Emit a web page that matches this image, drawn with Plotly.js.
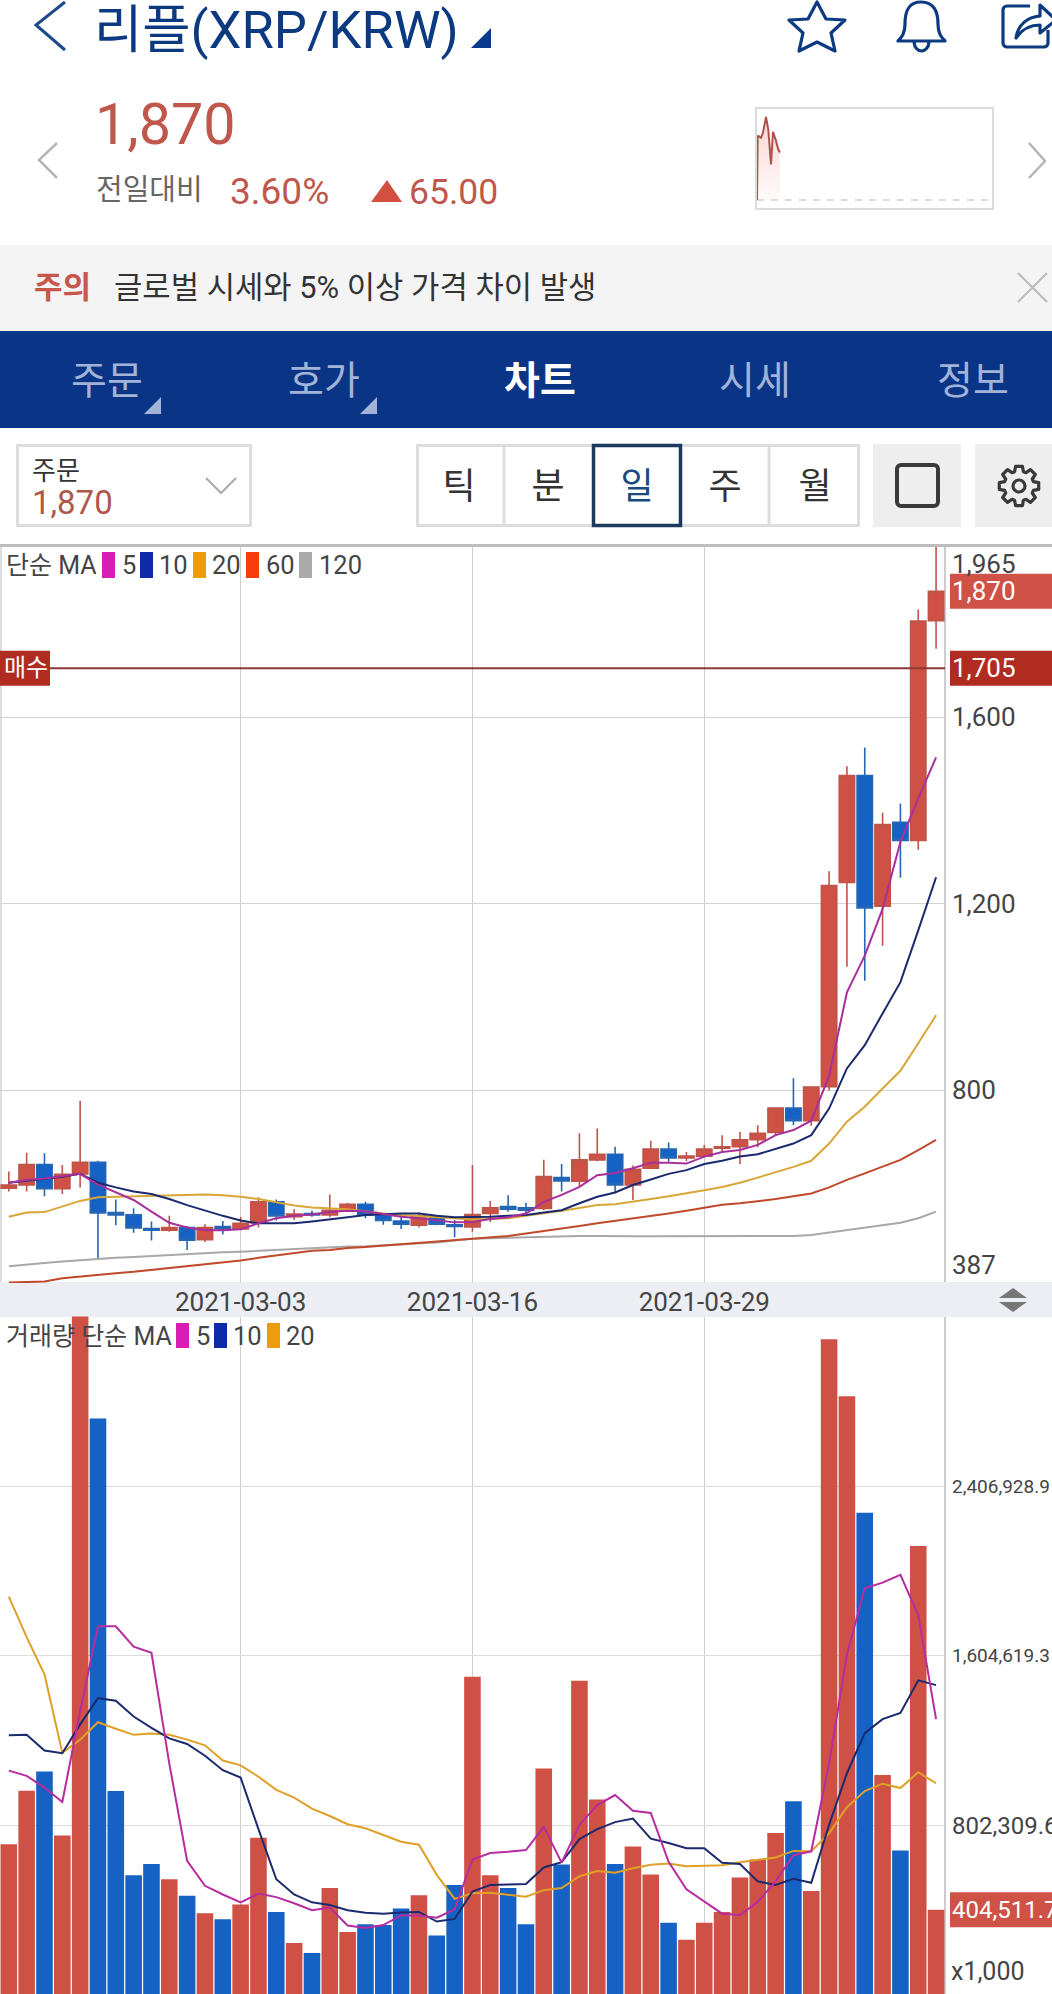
<!DOCTYPE html>
<html><head><meta charset="utf-8">
<script src="https://cdn.plot.ly/plotly-3.0.1.min.js"></script>
<style>
html,body{margin:0;padding:0;background:#fff;width:1052px;height:1994px;overflow:hidden}
#chart{position:absolute;left:0;top:0;width:1052px;height:1994px}
#chrome{position:absolute;left:0;top:0;pointer-events:none}
#chrome text{font-family:Roboto,"Noto Sans CJK KR",sans-serif}
</style></head><body>
<div id="chart"></div>
<svg id="chrome" width="1052" height="1994" xmlns="http://www.w3.org/2000/svg">
  <!-- header -->
  <path d="M65 2 L36 25 L65 50" fill="none" stroke="#1d4a8a" stroke-width="3"/>
  <text x="94" y="48" font-size="52.5" fill="#0c3a80">리플(XRP/KRW)</text>
  <path d="M491 28 V48 H471 Z" fill="#0a3a8c"/>
  <path d="M817 2 L826 19 L845 20 L831 33 L835 51 L817 42 L799 51 L803 33 L789 20 L808 19 Z" fill="none" stroke="#0c3a80" stroke-width="3.2" stroke-linejoin="round"/>
  <path d="M921 2 C908 2 905 12 905 24 C905 33 902 37 898 41 H945 C941 37 938 33 938 24 C938 12 934 2 921 2 Z M914 42 C915 54 928 54 929 42" fill="none" stroke="#0c3a80" stroke-width="3.2" stroke-linejoin="round"/>
  <path d="M1030 6 H1007 a4 4 0 0 0 -4 4 V43 a4 4 0 0 0 4 4 H1044 a4 4 0 0 0 4 -4 V30 M1016 38 C1018 24 1028 17 1040 16 V5 L1056 20 L1040 33 V25 C1030 25 1022 29 1016 38 Z" fill="none" stroke="#0c3a80" stroke-width="3.2" stroke-linejoin="round"/>

  <path d="M57 143 L39 160 L57 178" fill="none" stroke="#b5b5b5" stroke-width="2.5"/>
  <path d="M1029 143 L1045 161 L1029 178" fill="none" stroke="#b5b5b5" stroke-width="2.5"/>
  <text x="95" y="144" font-size="57.5" fill="#c0574c">1,870</text>
  <text x="96" y="200" font-size="29" fill="#666">전일대비</text>
  <text x="230" y="204" font-size="37" fill="#c0574c">3.60%</text>
  <path d="M387 180 L402 202 H371 Z" fill="#d2503f"/>
  <text x="409" y="204" font-size="35.5" fill="#c0574c">65.00</text>

  <!-- notice -->
  <rect x="0" y="245" width="1052" height="86" fill="#f4f4f5"/>
  <text x="34" y="298" font-size="31" font-weight="700" fill="#c8564a">주의</text>
  <text x="114" y="298" font-size="30.8" fill="#333">글로벌 시세와 5% 이상 가격 차이 발생</text>
  <path d="M1018 273 L1047 302 M1047 273 L1018 302" stroke="#bcbcbc" stroke-width="2.2"/>

  <!-- nav -->
  <rect x="0" y="331" width="1052" height="97" fill="#0a3586"/>
  <g font-size="39" text-anchor="middle" fill="#a3b3d8">
    <text x="107" y="394">주문</text>
    <text x="324" y="394">호가</text>
    <text x="540" y="394" fill="#fff" font-weight="700">차트</text>
    <text x="755" y="394">시세</text>
    <text x="973" y="394">정보</text>
  </g>
  <path d="M161 397 V414 H144 Z" fill="#a3b3d8"/>
  <path d="M377 397 V414 H360 Z" fill="#a3b3d8"/>

  <!-- controls -->
  <rect x="17.5" y="445.5" width="233" height="80" fill="#fff" stroke="#ddd" stroke-width="3"/>
  <text x="32" y="480" font-size="26" fill="#333">주문</text>
  <text x="32" y="514" font-size="33" fill="#b0574c">1,870</text>
  <path d="M206 478 L221 493 L236 478" fill="none" stroke="#aaa" stroke-width="2"/>
  <rect x="417.5" y="445.5" width="441" height="80" fill="#fff" stroke="#ddd" stroke-width="3"/>
  <path d="M504 445 V526 M769 445 V526" stroke="#ddd" stroke-width="3"/>
  <rect x="593.5" y="445.5" width="87" height="80" fill="#fff" stroke="#1b3a5c" stroke-width="3.5"/>
  <g font-size="36" text-anchor="middle" fill="#333">
    <text x="459" y="499">틱</text>
    <text x="548" y="499">분</text>
    <text x="637" y="499" fill="#1b4a80">일</text>
    <text x="725" y="499">주</text>
    <text x="815" y="499">월</text>
  </g>
  <rect x="873" y="444" width="88" height="83" fill="#eee"/>
  <rect x="897" y="465" width="41" height="41" rx="4" fill="none" stroke="#3a3a3a" stroke-width="4"/>
  <rect x="975" y="444" width="77" height="83" fill="#eee"/>
  <path id="gear" fill="none" stroke="#3a3a3a" stroke-width="3.2" stroke-linejoin="round"/>
  <circle cx="1019" cy="486" r="6" fill="none" stroke="#3a3a3a" stroke-width="3.2"/>

  <!-- band arrows -->
  <path d="M1013 1288 L1027 1298 H999 Z M1013 1312 L1027 1302 H999 Z" fill="#777"/>
</svg>
<script>
// ---------- data ----------
const dates = ["2021-02-18","2021-02-19","2021-02-20","2021-02-21","2021-02-22","2021-02-23","2021-02-24","2021-02-25","2021-02-26","2021-02-27","2021-02-28",
"2021-03-01","2021-03-02","2021-03-03","2021-03-04","2021-03-05","2021-03-06","2021-03-07","2021-03-08","2021-03-09","2021-03-10","2021-03-11","2021-03-12","2021-03-13","2021-03-14","2021-03-15","2021-03-16","2021-03-17","2021-03-18","2021-03-19","2021-03-20","2021-03-21","2021-03-22","2021-03-23","2021-03-24","2021-03-25","2021-03-26","2021-03-27","2021-03-28","2021-03-29","2021-03-30","2021-03-31",
"2021-04-01","2021-04-02","2021-04-03","2021-04-04","2021-04-05","2021-04-06","2021-04-07","2021-04-08","2021-04-09","2021-04-10","2021-04-11"];
const dateTicks = ["2021-03-03","2021-03-16","2021-03-29"];

const open_ = [590,597,641,589,621,646,538,533,504,500,506,480,508,503,516,561,529,536,533,542,556,533,520,511,529,512,507,536,551,548,547,613,605,651,663,597,633,674,655,659,676,679,694,710,762,735,808,1246,1475,1195,1375,1336,1807];
const close_ = [597,641,589,620,646,537,533,505,500,506,479,506,503,515,561,531,535,533,543,556,533,521,513,531,513,508,534,548,545,543,615,606,651,663,597,631,674,655,659,674,679,694,708,762,735,807,1239,1475,1191,1370,1336,1806,1870];
const high_ = [626,666,665,640,778,649,566,547,519,531,509,513,520,529,571,566,545,542,577,559,561,536,536,538,533,522,640,563,575,559,651,642,708,718,679,639,692,688,668,683,704,711,725,764,826,809,1270,1495,1535,1395,1415,1831,1965];
const low_ = [583,583,573,578,592,438,511,495,478,497,458,475,491,500,506,521,522,529,528,541,526,512,503,506,511,485,497,518,540,536,543,583,593,648,581,565,631,647,648,656,668,642,678,702,725,724,799,1065,1035,1110,1256,1316,1747];

const ma5 = [602,608,611,616,621,598,581,565,540,516,506,500,500,502,515,526,531,534,539,542,541,535,529,526,522,517,518,524,528,536,561,576,593,618,623,633,645,645,643,658,668,672,683,704,715,735,831,1010,1089,1189,1333,1426,1514];
const ma10 = [602,606,611,615,621,602,592,583,578,567,554,542,531,521,515,515,515,519,523,528,533,535,536,536,531,528,528,529,531,533,538,543,558,572,581,597,609,621,629,642,649,658,663,674,686,704,761,847,897,965,1032,1143,1257];
const ma20 = [529,538,539,551,563,571,572,573,574,576,576,577,575,572,567,560,553,549,547,545,541,536,533,531,528,526,523,525,526,531,536,542,548,554,556,561,567,573,579,586,593,602,613,624,636,649,686,733,765,804,842,901,961];
const ma60 = [388,389,390,397,401,405,408,411,415,419,423,427,430,435,441,446,451,456,458,462,464,467,470,473,476,479,482,485,488,493,498,503,509,515,520,526,531,536,542,549,555,558,562,567,573,579,592,608,622,636,651,672,694];
const ma120 = [423,427,430,433,436,439,441,443,445,448,449,451,453,454,456,458,459,461,463,465,466,468,470,472,474,478,482,483,484,485,486,488,488,488,487,487,487,487,487,487,487,487,488,488,488,490,495,501,506,511,516,526,540];

const volume = [713625,967313,1058063,754875,3300000,2726625,965250,567188,620813,548625,470250,387750,358875,429000,744563,393938,247500,200063,507375,299063,336188,332063,410438,472313,282563,521813,1505625,567188,507375,336188,1072500,618750,1487063,926063,620813,703313,571313,342375,261938,342375,393938,556875,641438,767250,917813,492938,3102000,2831813,2281125,1041563,684750,2124375,404512];
const volMa5 = [1062188,1037438,981750,913688,1342688,1744875,1744875,1647938,1619063,1095188,635250,517688,476438,439313,480563,464063,435188,402188,414563,330000,317625,332063,377438,377438,367125,406313,641438,672375,678563,686813,796125,627000,806438,899250,946688,872438,862125,631125,501188,445500,385688,379500,441375,538313,662063,680625,1095188,1610813,1924313,1951125,1988250,1796438,1305563];
const volMa10 = [1229250,1231313,1157063,1144688,1280813,1404563,1392188,1317938,1264313,1214813,1188000,1132313,1064250,1029188,785813,548625,476438,439313,426938,402188,389813,385688,391875,393938,348563,360938,490875,521813,523875,525938,604313,629063,738375,785813,818813,835313,740438,719813,695063,695063,627000,620813,538313,521813,550688,532125,806438,1049813,1239563,1305563,1334438,1489125,1466438];
const volMa20 = [1885125,1693313,1518000,1146750,1208625,1291125,1260188,1231313,1237500,1231313,1208625,1181813,1109625,1086938,1033313,971438,934313,882750,847688,808500,789938,756938,726000,711563,569250,455813,482625,484688,476438,466125,497063,507375,563063,587813,579563,600188,616688,622875,610500,612563,614625,629063,641438,651750,682688,680625,765188,888938,965250,1000313,979688,1053938,1002375];

const priceTicks = [800,1200,1600];
const priceTickText = ["800","1,200","1,600"];
const priceMin = 387, priceMax = 1965, lastPrice = 1870, buyPrice = 1705;
const volTicks = [802309.6,1604619.3,2406928.9];
const volLast = 404511.7;

const sparkX = [0,0.7,4,6,9,11.3,14,16,18.7,21.3,23];
const sparkY = [0,65,63,68,84,71,36,69,61,51,48];

// ---------- colours ----------
const RED="#cf5146", BLUE="#1562c4", RED_LINE="#bf5448", BLUE_LINE="#2567b4";
const C5="#a82f9c", C10="#1b2a6e", C20="#d8a636", C60="#c2482c", C120="#a8a8a8";
const TXT="#444";

// ---------- helpers for page pixels -> paper fractions ----------
const W=1052,H=1994;
const px=x=>x/W, py=y=>1-y/H;
const FONT='Roboto,"Noto Sans CJK KR",sans-serif';

// gear outline for the settings icon
(function(){
  const cx=1019,cy=486,n=8,ro=20,ri=15, w=0.2, w2=0.17, s=2*Math.PI/n; let d="";
  for(let i=0;i<n;i++){
    const a=i*s-Math.PI/2;
    const P=(r,t)=>(cx+r*Math.cos(t)).toFixed(1)+" "+(cy+r*Math.sin(t)).toFixed(1);
    d+=(i?"L":"M")+P(ri,a-w-0.1)+"L"+P(ro,a-w2)+"L"+P(ro,a+w2)+"L"+P(ri,a+w+0.1);
    d+="A"+ri+" "+ri+" 0 0 1 "+P(ri,a+s-w-0.1);
  }
  document.getElementById("gear").setAttribute("d",d+"Z");
})();

const line=(y,c,w,ax)=>({type:"scatter",mode:"lines",x:dates,y:y,xaxis:ax[0],yaxis:ax[1],line:{color:c,width:w},hoverinfo:"skip",showlegend:false});

const traces=[
  line(ma120,C120,2,["x","y"]),
  line(ma60,C60,2,["x","y"]),
  line(ma20,C20,2,["x","y"]),
  line(ma10,C10,2,["x","y"]),
  line(ma5,C5,2,["x","y"]),
  {type:"candlestick",x:dates,open:open_,high:high_,low:low_,close:close_,xaxis:"x",yaxis:"y",
   increasing:{line:{color:RED_LINE,width:1.6},fillcolor:RED},
   decreasing:{line:{color:BLUE_LINE,width:1.6},fillcolor:BLUE},
   whiskerwidth:0,hoverinfo:"skip",showlegend:false},
  {type:"bar",x:dates,y:volume,xaxis:"x2",yaxis:"y2",
   marker:{color:close_.map((c,i)=>c>=open_[i]?RED:BLUE),line:{width:0}},hoverinfo:"skip",showlegend:false},
  line(volMa20,"#e0a028",2,["x2","y2"]),
  line(volMa10,C10,2,["x2","y2"]),
  line(volMa5,"#b82ca0",2,["x2","y2"]),
  {type:"scatter",mode:"lines",x:[0,235],y:[0,0],xaxis:"x3",yaxis:"y3",line:{color:"#d4d4d4",width:1.5,dash:"7px,7px"},hoverinfo:"skip",showlegend:false},
  {type:"scatter",mode:"lines",x:sparkX,y:sparkY,xaxis:"x3",yaxis:"y3",line:{color:"#b0524a",width:2},
   fill:"tozeroy",fillgradient:{type:"vertical",colorscale:[[0,"rgba(240,110,100,0.03)"],[1,"rgba(240,110,100,0.28)"]]},hoverinfo:"skip",showlegend:false}
];

const xBase={type:"category",categoryorder:"array",categoryarray:dates,range:[-0.494,52.5],domain:[0,px(945)],
  tickmode:"array",tickvals:dateTicks,showgrid:true,gridcolor:"#cfcfcf",gridwidth:1.4,zeroline:false,showline:false,ticks:""};

const shapes=[];
const rectP=(x0,y0,x1,y1,c,layer)=>shapes.push({type:"rect",xref:"paper",yref:"paper",x0:px(x0),x1:px(x1),y0:py(y0),y1:py(y1),fillcolor:c,line:{width:0},layer:layer||"above"});
const lineP=(x0,y0,x1,y1,c,w,layer)=>shapes.push({type:"line",xref:"paper",yref:"paper",x0:px(x0),x1:px(x1),y0:py(y0),y1:py(y1),line:{color:c,width:w},layer:layer||"below"});
rectP(0,1282,W,1317,"#eceef4","below");
lineP(0,545.5,W,545.5,"#bdbdbd",3);
lineP(1,547,1,1282,"#cfcfcf",1.4);
lineP(945,547,945,1282,"#bbb",1.5);
lineP(945,1317,945,H,"#bbb",1.5);

// value badges / buy line
const badge=(val,yref,x0,x1,c)=>shapes.push({type:"rect",xref:"paper",yref:yref,x0:px(x0),x1:px(x1),yanchor:val,ysizemode:"pixel",y0:-17.5,y1:17.5,fillcolor:c,line:{width:0},layer:"above"});
badge(lastPrice,"y",950,W,"#cf5247");
badge(buyPrice,"y",950,W,"#b02c20");
badge(buyPrice,"y",0,50,"#b02c20");
badge(volLast,"y2",950,W,"#cf5247");
shapes.push({type:"line",xref:"paper",yref:"y",x0:px(50),x1:px(945),y0:buyPrice,y1:buyPrice,line:{color:"#8c3a33",width:2},layer:"above"});

// MA legends
const annotations=[];
const labelP=(text,x,y,size,color,anchor)=>annotations.push({xref:"paper",yref:"paper",x:px(x),y:py(y),text:text,showarrow:false,xanchor:anchor||"left",yanchor:"middle",font:{family:FONT,size:size,color:color||TXT},borderpad:0});
labelP("단순 MA",5,565,25);
[[102,"#d91cb4",121,"5"],[140,"#0f2aa8",158,"10"],[193,"#ec9c0c",211,"20"],[246,"#f53c0a",265,"60"],[299,"#aaaaaa",318,"120"]]
 .forEach(a=>{rectP(a[0],552,a[0]+13,578,a[1]);labelP(a[3],a[2],565,25.5);});
labelP("거래량 단순 MA",5,1336,25);
[[176,"#d91cb4",195,"5"],[214,"#0f2aa8",232,"10"],[267,"#ec9c0c",285,"20"]]
 .forEach(a=>{rectP(a[0],1323,a[0]+13,1348,a[1]);labelP(a[3],a[2],1336,25.5);});

// right-hand value labels
const valueLabel=(text,yref,val,color,yshift,size)=>annotations.push({xref:"paper",yref:yref,x:px(951),y:val,text:text,showarrow:false,xanchor:"left",yanchor:"middle",yshift:yshift||0,font:{family:FONT,size:size||26,color:color},borderpad:0});
valueLabel(String(priceMax).replace(/(\d)(\d{3})$/,"$1,$2"),"y",priceMax,TXT,-17);
valueLabel(String(priceMin),"y",priceMin,TXT,18);
valueLabel("1,870","y",lastPrice,"#fff");
valueLabel("1,705","y",buyPrice,"#fff");
annotations.push({xref:"paper",yref:"y",x:px(3),y:buyPrice,text:"매수",showarrow:false,xanchor:"left",yanchor:"middle",font:{family:FONT,size:24,color:"#fff"},borderpad:0});
valueLabel("404,511.7","y2",volLast,"#fff",0,24);
valueLabel("2,406,928.9","y2",volTicks[2],TXT,0,19);
valueLabel("1,604,619.3","y2",volTicks[1],TXT,0,19);
valueLabel("802,309.6","y2",volTicks[0],TXT,0,24);
labelP("x1,000",950,1971,25);

const layout={
  width:W,height:H,margin:{l:0,r:0,t:0,b:0,pad:0},paper_bgcolor:"rgba(0,0,0,0)",plot_bgcolor:"rgba(0,0,0,0)",
  showlegend:false,boxgap:0.14,boxgroupgap:0,bargap:0.07,font:{family:FONT,color:TXT},
  xaxis:Object.assign({},xBase,{anchor:"y",ticktext:dateTicks,tickfont:{size:26,color:TXT,family:FONT},ticklabelstandoff:1,rangeslider:{visible:false}}),
  yaxis:{domain:[py(1283),py(547)],range:[priceMin,priceMax],anchor:"x",side:"right",tickmode:"array",tickvals:priceTicks,ticktext:priceTickText,
    tickfont:{size:26,color:TXT,family:FONT},ticklabelstandoff:6,showgrid:true,gridcolor:"#d4d4d4",gridwidth:1.2,zeroline:false,showline:false,ticks:""},
  xaxis2:Object.assign({},xBase,{anchor:"y2",showticklabels:false}),
  yaxis2:{domain:[0,py(1316.5)],range:[6000,3209250],anchor:"x2",side:"right",tickmode:"array",tickvals:volTicks,showticklabels:false,
    showgrid:true,gridcolor:"#dcdcdc",gridwidth:1.2,zeroline:false,showline:false,ticks:""},
  xaxis3:{domain:[px(757),px(992)],range:[0,235],anchor:"y3",showgrid:false,zeroline:false,showticklabels:false,showline:true,mirror:true,linecolor:"#dcdcdc",linewidth:1.6,ticks:""},
  yaxis3:{domain:[py(208),py(109)],range:[-8,92],anchor:"x3",showgrid:false,zeroline:false,showticklabels:false,showline:true,mirror:true,linecolor:"#dcdcdc",linewidth:1.6,ticks:""},
  shapes:shapes,annotations:annotations
};
Plotly.newPlot("chart",traces,layout,{displayModeBar:false,staticPlot:true});
</script>
</body></html>
